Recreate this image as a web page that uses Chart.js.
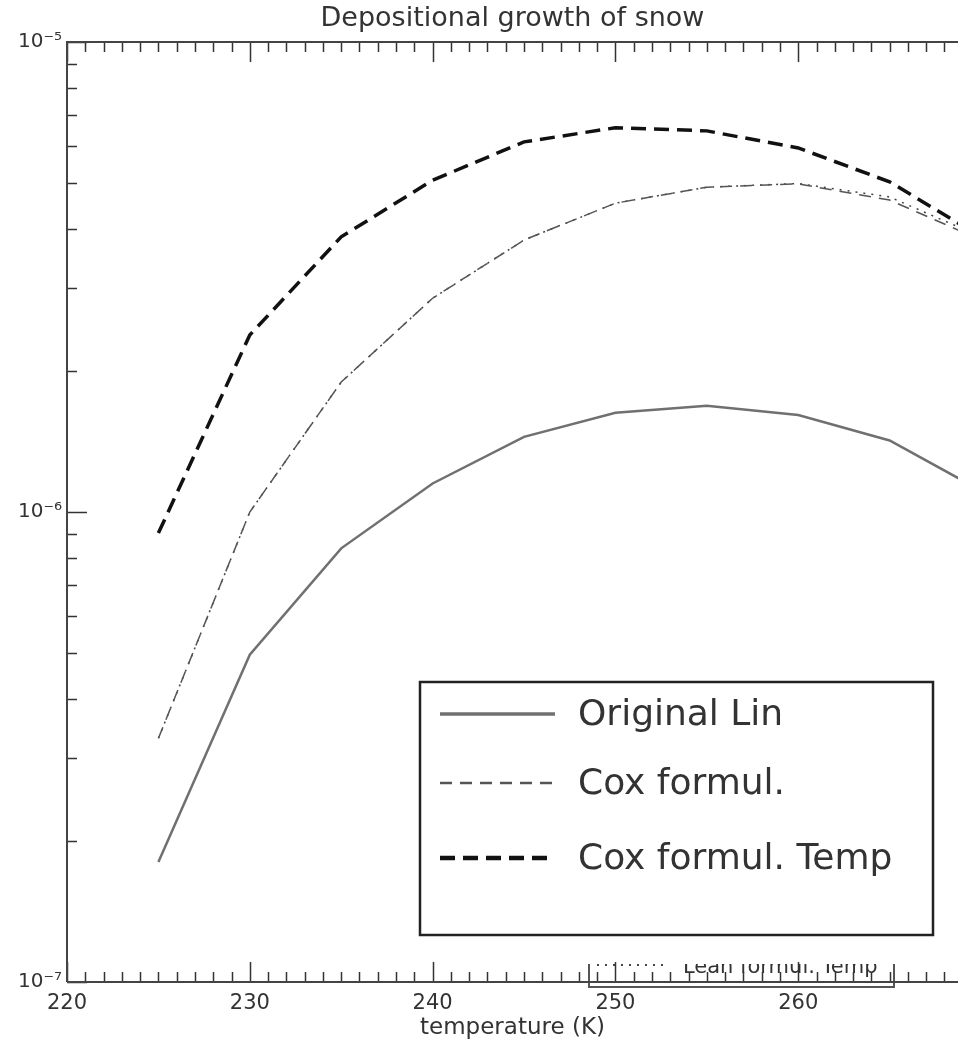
<!DOCTYPE html>
<html><head><meta charset="utf-8">
<script src="https://cdn.jsdelivr.net/npm/chart.js@4.4.0/dist/chart.umd.min.js"></script>
<style>html,body{margin:0;padding:0;background:#fff}#wrap{width:958px;height:1042px;position:relative;overflow:hidden}</style>
</head><body><div id="wrap"><canvas id="c"></canvas></div>
<script>
// ---- data ----
const chartTitle = 'Depositional growth of snow';
const xAxisTitle = 'temperature (K)';
const temperatures = [225, 230, 235, 240, 245, 250, 255, 260, 265, 270];
const originalLin    = [1.80e-7, 4.97e-7, 8.37e-7, 1.15e-6, 1.445e-6, 1.626e-6, 1.683e-6, 1.608e-6, 1.42e-6, 1.11e-6];
const coxFormul      = [3.30e-7, 1.00e-6, 1.89e-6, 2.85e-6, 3.79e-6, 4.54e-6, 4.91e-6, 4.99e-6, 4.61e-6, 3.79e-6];
const coxFormulTemp  = [9.02e-7, 2.38e-6, 3.85e-6, 5.08e-6, 6.13e-6, 6.57e-6, 6.47e-6, 5.95e-6, 5.04e-6, 3.85e-6];
const leanFormulTemp = [3.30e-7, 1.00e-6, 1.89e-6, 2.85e-6, 3.79e-6, 4.54e-6, 4.91e-6, 5.00e-6, 4.68e-6, 3.85e-6];
const seriesLabels = ['Original Lin', 'Cox formul.', 'Cox formul. Temp', 'Lean formul. Temp'];
const xTickValues = [220, 230, 240, 250, 260];
const xTickLabels = ['220', '230', '240', '250', '260'];
const yTickValues = [1e-7, 1e-6, 1e-5];
const yTickLabels = ['10\u207B\u2077', '10\u207B\u2076', '10\u207B\u2075'];
const xRange = [220, 268.74];   // plot is cut at the right edge of the picture
const yRange = [1e-7, 1e-5];

const FONT = 'DejaVu Sans';
const TXT = '#333';

function pts(arr) { return temperatures.map((t, i) => ({x: t, y: arr[i]})); }

const datasets = [
  {label: seriesLabels[0], data: pts(originalLin), borderColor: '#707070', borderWidth: 2.5, borderDash: []},
  {label: seriesLabels[1], data: pts(coxFormul), borderColor: '#555', borderWidth: 1.5, borderDash: [12, 8]},
  {label: seriesLabels[2], data: pts(coxFormulTemp), borderColor: '#111', borderWidth: 3.5, borderDash: [15, 8]},
  {label: seriesLabels[3], data: pts(leanFormulTemp), borderColor: '#444', borderWidth: 1.5, borderDash: [2, 6]}
].map(d => Object.assign(d, {pointRadius: 0, fill: false, tension: 0}));

function isDecade(v) { return Math.abs(Math.log10(v) - Math.round(Math.log10(v))) < 1e-9; }

const framePlugin = {
  id: 'framePlugin',
  afterDatasetsDraw(chart) {
    const ctx = chart.ctx, a = chart.chartArea;
    const xs = chart.scales.x, ys = chart.scales.y;
    const ds = chart.data.datasets;
    ctx.save();
    // second (partly hidden) legend
    const h = ds[3];
    ctx.strokeStyle = '#555'; ctx.lineWidth = 2;
    ctx.strokeRect(589, 880, 305, 107);
    ctx.setLineDash(h.borderDash); ctx.strokeStyle = h.borderColor; ctx.lineWidth = 2;
    ctx.beginPath(); ctx.moveTo(597, 965); ctx.lineTo(667, 965); ctx.stroke();
    ctx.setLineDash([]);
    ctx.fillStyle = TXT; ctx.font = '21px "' + FONT + '"'; ctx.textBaseline = 'alphabetic'; ctx.textAlign = 'left';
    ctx.fillText(h.label, 683, 973);
    // main legend
    ctx.fillStyle = '#fff';
    ctx.fillRect(405, 668, 545, 296);
    ctx.strokeStyle = '#222'; ctx.lineWidth = 2.5;
    ctx.strokeRect(420, 682, 513, 253);
    const ly = [714, 783, 858];
    for (let i = 0; i < 3; i++) {
      const d = ds[i];
      ctx.strokeStyle = d.borderColor; ctx.lineWidth = d.borderWidth + 1;
      ctx.setLineDash(d.borderDash);
      ctx.beginPath(); ctx.moveTo(440, ly[i]); ctx.lineTo(555, ly[i]); ctx.stroke();
      ctx.setLineDash([]);
      ctx.fillStyle = TXT; ctx.font = '36px "' + FONT + '"'; ctx.textBaseline = 'middle';
      ctx.fillText(d.label, 578, ly[i] + 2);
    }
    // inward ticks
    ctx.strokeStyle = '#333'; ctx.lineWidth = 1.5;
    ctx.beginPath();
    xs.ticks.forEach(t => {
      const px = Math.round(xs.getPixelForValue(t.value)) + 0.5;
      const len = (t.value % 10 === 0) ? 20 : 10;
      ctx.moveTo(px, a.bottom); ctx.lineTo(px, a.bottom - len);
      ctx.moveTo(px, a.top); ctx.lineTo(px, a.top + len);
    });
    ys.ticks.forEach(t => {
      const py = Math.round(ys.getPixelForValue(t.value)) + 0.5;
      const len = isDecade(t.value) ? 20 : 10;
      ctx.moveTo(a.left, py); ctx.lineTo(a.left + len, py);
    });
    ctx.stroke();
    // frame
    ctx.strokeStyle = '#444'; ctx.lineWidth = 2;
    ctx.beginPath();
    ctx.moveTo(a.left, a.bottom); ctx.lineTo(a.left, a.top); ctx.lineTo(a.right + 2, a.top);
    ctx.moveTo(a.left, a.bottom); ctx.lineTo(a.right + 2, a.bottom);
    ctx.stroke();
    ctx.restore();
  }
};

function noPad(s) { s.paddingLeft = 0; s.paddingRight = 0; s.paddingTop = 0; s.paddingBottom = 0; }

new Chart(document.getElementById('c'), {
  type: 'line',
  data: {datasets},
  options: {
    responsive: true, maintainAspectRatio: false, animation: false, devicePixelRatio: 1,
    layout: {padding: 0},
    plugins: {legend: {display: false}, title: {display: false}, tooltip: {enabled: false}},
    scales: {
      x: {
        type: 'linear', position: 'bottom', min: xRange[0], max: xRange[1],
        afterBuildTicks: s => { const t = []; for (let v = 220; v <= xRange[1]; v++) t.push({value: v}); s.ticks = t; },
        afterFit: s => { s.height = 60; noPad(s); },
        grid: {display: false, drawTicks: false},
        border: {display: false},
        ticks: {
          autoSkip: false, maxRotation: 0, padding: 9, color: TXT, font: {family: FONT, size: 21},
          callback: v => { const i = xTickValues.indexOf(v); return i >= 0 ? xTickLabels[i] : ''; }
        },
        title: {display: true, text: xAxisTitle, color: TXT, font: {family: FONT, size: 23, lineHeight: 1.2}, padding: {top: 0, bottom: 0}}
      },
      x2: {
        type: 'linear', position: 'top', min: xRange[0], max: xRange[1],
        afterFit: s => { s.height = 42; noPad(s); },
        grid: {display: false, drawTicks: false},
        border: {display: false},
        ticks: {display: false},
        title: {display: true, text: chartTitle, color: TXT, font: {family: FONT, size: 27, lineHeight: 1.2}, padding: {top: 3, bottom: 0}}
      },
      y: {
        type: 'logarithmic', position: 'left', min: yRange[0], max: yRange[1],
        afterBuildTicks: s => {
          const t = [];
          for (let e = -7; e < -5; e++) for (let k = 1; k <= 9; k++) t.push({value: Number((k * Math.pow(10, e)).toPrecision(3))});
          t.push({value: yRange[1]});
          s.ticks = t;
        },
        afterFit: s => { s.width = 67; noPad(s); },
        grid: {display: false, drawTicks: false},
        border: {display: false},
        ticks: {
          autoSkip: false, padding: 5, color: TXT, font: {family: FONT, size: 20},
          callback: v => { for (let i = 0; i < yTickValues.length; i++) if (Math.abs(Math.log10(v) - Math.log10(yTickValues[i])) < 1e-6) return yTickLabels[i]; return ''; }
        }
      }
    }
  },
  plugins: [framePlugin]
});
</script></body></html>
